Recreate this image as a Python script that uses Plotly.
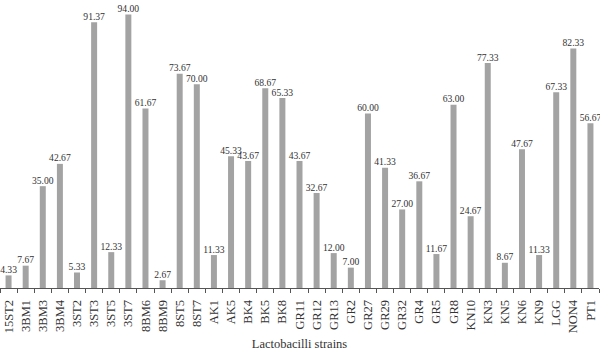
import plotly.graph_objects as go

strains = ["15ST2", "3BM1", "3BM3", "3BM4", "3ST2", "3ST3", "3ST5", "3ST7", "8BM6", "8BM9",
           "8ST5", "8ST7", "AK1", "AK5", "BK4", "BK5", "BK8", "GR11", "GR12", "GR13",
           "GR2", "GR27", "GR29", "GR32", "GR4", "GR5", "GR8", "KN10", "KN3", "KN5",
           "KN6", "KN9", "LGG", "NON4", "PT1"]
values = [4.33, 7.67, 35.00, 42.67, 5.33, 91.37, 12.33, 94.00, 61.67, 2.67,
          73.67, 70.00, 11.33, 45.33, 43.67, 68.67, 65.33, 43.67, 32.67, 12.00,
          7.00, 60.00, 41.33, 27.00, 36.67, 11.67, 63.00, 24.67, 77.33, 8.67,
          47.67, 11.33, 67.33, 82.33, 56.67]
labels = [f"{v:.2f}" for v in values]

fig = go.Figure()
fig.add_trace(go.Bar(
    x=strains, y=values,
    marker=dict(color="#a3a3a3", line=dict(width=0)),
    hoverinfo="x+y",
))
fig.add_trace(go.Scatter(
    x=strains, y=values, text=labels, mode="text", textposition="top center",
    textfont=dict(family="Liberation Serif", size=9.6, color="#333333"),
    cliponaxis=False, hoverinfo="skip",
))

fig.update_layout(
    width=600, height=353,
    margin=dict(l=0, r=1, t=0, b=65),
    paper_bgcolor="white", plot_bgcolor="white",
    bargap=0.65,
    showlegend=False,
    font=dict(family="Liberation Serif", color="#333333"),
    xaxis=dict(
        type="category",
        range=[-0.5, len(strains) - 0.5],
        showline=True, linecolor="#555555", linewidth=1,
        ticks="outside", tickson="boundaries", ticklen=4, tickcolor="#555555",
        tickangle=-90,
        ticklabelstandoff=6,
        tickfont=dict(family="Liberation Serif", size=12.5, color="#333333"),
        title=dict(text="Lactobacilli strains",
                   font=dict(family="Liberation Serif", size=12.5, color="#333333"),
                   standoff=6),
        showgrid=False,
    ),
    yaxis=dict(range=[0, 99], visible=False, showgrid=False, zeroline=False),
)

fig.write_html("out.html")
